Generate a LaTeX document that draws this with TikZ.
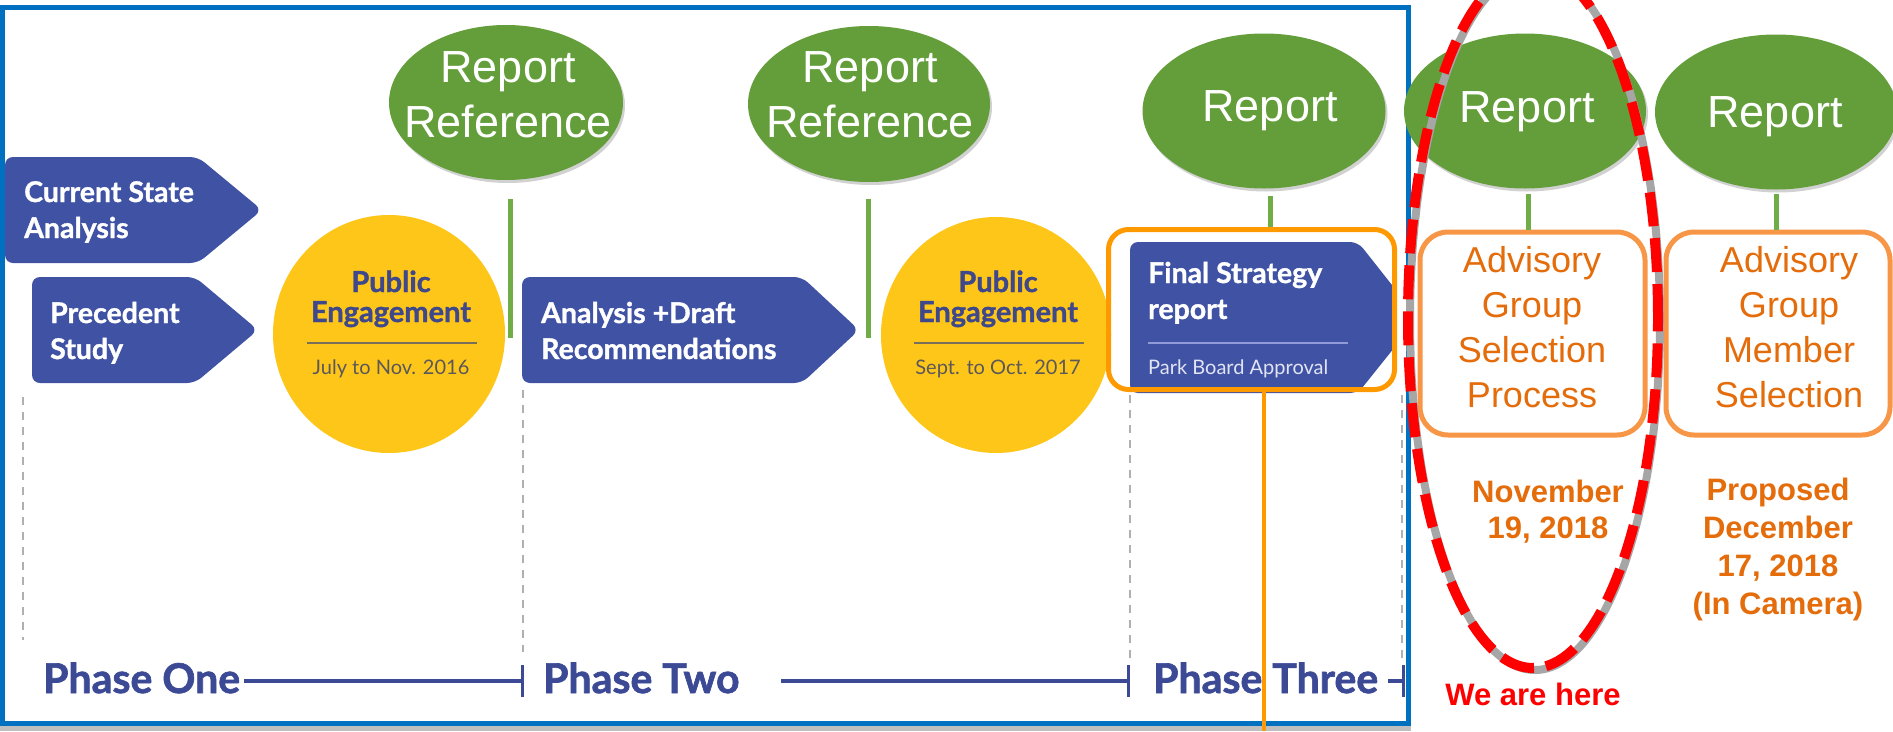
\documentclass[tikz,border=0pt]{standalone}
\usepackage{fontspec}
\setmainfont{Liberation Sans}
\newfontfamily\latofont{Lato}
\newfontfamily\latoheavy{Lato}[FakeBold=1.2]
\newfontfamily\latophase{Lato}[FakeBold=1.6]
\usetikzlibrary{shapes.geometric}
\newcommand{\mlc}[1]{\begin{tabular}[t]{@{}c@{}}#1\end{tabular}}
\newcommand{\mll}[1]{\begin{tabular}[t]{@{}l@{}}#1\end{tabular}}
\definecolor{frameblue}{RGB}{0,112,192}
\definecolor{ellgreen}{RGB}{99,158,58}
\definecolor{linegreen}{RGB}{112,173,71}
\definecolor{pentblue}{RGB}{64,82,163}
\definecolor{sunyellow}{RGB}{253,198,25}
\definecolor{engblue}{RGB}{62,72,138}
\definecolor{dategray}{RGB}{92,88,90}
\definecolor{orangeA}{RGB}{255,153,0}
\definecolor{orangeB}{RGB}{247,150,70}
\definecolor{orangeT}{RGB}{228,108,10}
\definecolor{phaseblue}{RGB}{60,74,150}
\definecolor{dashgray}{RGB}{175,175,180}
\definecolor{subtext}{RGB}{225,228,245}
\definecolor{subrule}{RGB}{145,155,215}
\definecolor{engrule}{RGB}{120,110,90}
\tikzset{
  ell/.style={ellipse, fill=ellgreen, inner sep=0pt,
    preaction={fill=black, opacity=0.18, transform canvas={shift={(2pt,-3pt)}}}},
  gtext/.style={text=white, inner sep=0pt, anchor=base, font=\fontsize{45}{55}\selectfont},
  gline/.style={draw=linegreen, line width=5pt},
  pent/.style={fill=pentblue, rounded corners=8pt},
  ptext/.style={text=white, inner sep=0pt, anchor=base west, font=\latoheavy\bfseries\fontsize{28.5}{36}\selectfont},
  sun/.style={ellipse, fill=sunyellow, inner sep=0pt},
  etext/.style={text=engblue, inner sep=0pt, anchor=base, font=\latoheavy\bfseries\fontsize{29}{30}\selectfont},
  dtext/.style={text=dategray, inner sep=0pt, anchor=base, font=\latofont\fontsize{20}{24}\selectfont},
  vdash/.style={draw=dashgray, line width=1.5pt, dash pattern=on 8pt off 7pt},
  phase/.style={text=phaseblue, inner sep=0pt, anchor=base west, font=\latophase\bfseries\fontsize{41}{41}\selectfont},
  pline/.style={draw=phaseblue, line width=3.5pt},
  obox/.style={rectangle, draw=orangeB, line width=5pt, rounded corners=28pt, inner sep=0pt},
  otext/.style={text=orangeT, inner sep=0pt, anchor=base, font=\fontsize{36}{45}\selectfont},
  odate/.style={text=orangeT, inner sep=0pt, anchor=base, font=\bfseries\fontsize{31}{36}\selectfont},
}
\begin{document}
\begin{tikzpicture}[x=1pt,y=-1pt]
\useasboundingbox (0,0) rectangle (1893,731);
\fill[white] (0,0) rectangle (1893,731);
% shadow strip below frame
\fill[black!25] (0,726) rectangle (1411,731);
% frame
\node[draw=frameblue, line width=5pt, rectangle, inner sep=0pt, minimum width=1406, minimum height=716] (frame) at (705,365) {};

% dashed guides
\coordinate (d1a) at (23,397);  \coordinate (d1b) at (23,640);
\coordinate (d2a) at (523,390); \coordinate (d2b) at (523,652);
\coordinate (d3a) at (1130,395); \coordinate (d3b) at (1130,660);
\coordinate (d4a) at (1402,395); \coordinate (d4b) at (1402,660);
\draw[vdash] (d1a) -- (d1b);
\draw[vdash] (d2a) -- (d2b);
\draw[vdash] (d3a) -- (d3b);
\draw[vdash] (d4a) -- (d4b);

% blue pentagons
\fill[pent] (5,157) -- (198,157) -- (262,210) -- (198,263) -- (5,263) -- cycle;
\node[ptext] (cs) at (24,202) {\mll{Current State\\Analysis}};
\fill[pent] (32,277) -- (195,277) -- (258,330) -- (195,383) -- (32,383) -- cycle;
\node[ptext] (ps) at (50,323) {\mll{Precedent\\Study}};
\fill[pent] (522,277) -- (802,277) -- (859,330) -- (802,383) -- (522,383) -- cycle;
\node[ptext] (ad) at (541,323) {\mll{Analysis +Draft\\Recommendations}};
\begin{scope}
\clip (1100,200) rectangle (1396,400);
\fill[pent] (1130,242) -- (1358,242) -- (1418,318) -- (1358,393) -- (1130,393) -- cycle;
\end{scope}
\node[ptext] (fs) at (1148,283) {\mll{Final Strategy\\report}};
\draw[subrule, line width=2pt] (1148,343) -- (1348,343);
\node[ptext, text=subtext, font=\latofont\fontsize{20}{24}\selectfont] (pb) at (1148,374) {Park Board Approval};

% yellow circles
\node[sun, minimum width=232, minimum height=238] (c1) at (389,334) {};
\node[etext] (c1t) at (391,292) {\mlc{Public\\Engagement}};
\draw[engrule, line width=1.5pt] (307,343) -- (477,343);
\node[dtext] (c1d) at (391,374) {July to Nov. 2016};
\node[sun, minimum width=230, minimum height=236] (c2) at (996,335) {};
\node[etext] (c2t) at (998,292) {\mlc{Public\\Engagement}};
\draw[engrule, line width=1.5pt] (914,343) -- (1084,343);
\node[dtext] (c2d) at (998,374) {Sept. to Oct. 2017};

% green ellipses
\node[ell, minimum width=234, minimum height=155] (e1) at (506,102.5) {};
\node[gtext] (e1t) at (508,82) {\mlc{Report\\Reference}};
\node[ell, minimum width=242, minimum height=156] (e2) at (869,104) {};
\node[gtext] (e2t) at (870,82) {\mlc{Report\\Reference}};
\node[ell, minimum width=243, minimum height=155] (e3) at (1264,111) {};
\node[gtext] (e3t) at (1270,121) {Report};
\node[ell, minimum width=242, minimum height=155] (e4) at (1525,111) {};
\node[gtext] (e4t) at (1527,122) {Report};
\node[ell, minimum width=242, minimum height=155] (e5) at (1776,112) {};
\node[gtext] (e5t) at (1775,127) {Report};

% green ticks
\coordinate (l1a) at (510,199); \coordinate (l1b) at (510,338);
\coordinate (l2a) at (868,199); \coordinate (l2b) at (868,338);
\draw[gline] (l1a) -- (l1b);
\draw[gline] (l2a) -- (l2b);

% final strategy frame
\node[rectangle, draw=orangeA, line width=5pt, rounded corners=20pt, inner sep=0pt,
      minimum width=286, minimum height=160] (fsbox) at (1251.5,309.5) {};
\coordinate (l3a) at (1270,196);
\draw[gline] (l3a) -- (l3a |- fsbox.north);

% advisory boxes
\node[obox, minimum width=225, minimum height=203] (b1) at (1532.5,333.5) {};
\node[obox, minimum width=224, minimum height=203] (b2) at (1778,333.5) {};
\coordinate (l4a) at (1528,194);
\coordinate (l5a) at (1776,194);
\draw[gline] (l4a) -- (l4a |- b1.north);
\draw[gline] (l5a) -- (l5a |- b2.north);
\node[otext] (b1t) at (1532,272) {\mlc{Advisory\\Group\\Selection\\Process}};
\node[otext] (b2t) at (1789,272) {\mlc{Advisory\\Group\\Member\\Selection}};

% dates
\node[odate] (nov) at (1548,502) {\mlc{November\\19, 2018}};
\node[odate, font=\bfseries\fontsize{31}{38.3}\selectfont] (dec) at (1778,500) {\mlc{Proposed\\December\\17, 2018\\(In Camera)}};

% phases
\node[phase] (ph1) at (43,693) {Phase One};
\node[phase] (ph2) at (543,693) {Phase Two};
\node[phase] (ph3) at (1153,693) {Phase Three};
\coordinate (t1) at (522,681);
\coordinate (t2) at (1128,681);
\coordinate (t3) at (1403,681);
\coordinate (s2) at (781,681);
\coordinate (s3) at (1388,681);
\draw[pline] (ph1.east |- t1) ++(4,0) -- (t1);
\draw[pline] (s2) -- (t2);
\draw[pline] (s3) -- (t3);
\draw[draw=phaseblue, line width=3pt] ([yshift=16pt]t1) -- ([yshift=-16pt]t1);
\draw[draw=phaseblue, line width=3pt] ([yshift=16pt]t2) -- ([yshift=-16pt]t2);
\draw[draw=phaseblue, line width=3pt] ([yshift=16pt]t3) -- ([yshift=-16pt]t3);

% orange drop line
\coordinate (oend) at (1264,731);
\draw[draw=orangeA, line width=4pt] (fsbox.south -| oend) -- (oend);

% we are here
\node[ellipse, draw=black!35, line width=8pt, minimum width=250, minimum height=700, inner sep=0pt] (hereshadow) at (1535,320) {};
\node[ellipse, draw=red, line width=10pt, dash pattern=on 34pt off 12pt, minimum width=250, minimum height=700, inner sep=0pt] (here) at (1533,318) {};
\node[odate, text=red] (weare) at (1533,705) {We are here};
\end{tikzpicture}
\end{document}
